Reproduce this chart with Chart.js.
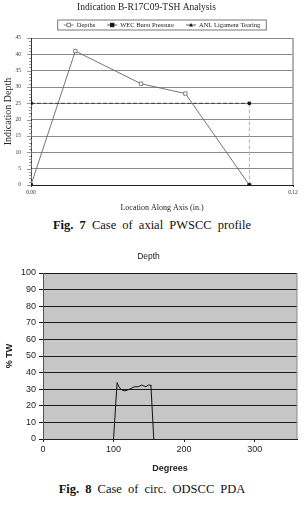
<!DOCTYPE html>
<html>
<head>
<meta charset="utf-8">
<script src="https://cdn.jsdelivr.net/npm/chart.js@4.4.0/dist/chart.umd.min.js"></script>
<style>
  body { margin: 0; background: #fff; width: 304px; height: 514px; position: relative; overflow: hidden; }
  canvas { position: absolute; left: 0; }
  #chart1 { top: 0; }
  #chart2 { top: 245px; }
  .caption {
    position: absolute; left: 0; width: 304px; text-align: center;
    font-family: "Liberation Serif", "DejaVu Serif", serif; font-size: 12.5px; color: #111;
    word-spacing: 3px;
  }
  .caption b { font-weight: bold; }
</style>
</head>
<body>
<canvas id="chart1" width="304" height="215"></canvas>
<div class="caption" style="top:218px"><b>Fig. 7</b> Case of axial PWSCC profile</div>
<canvas id="chart2" width="304" height="231"></canvas>
<div class="caption" style="top:482px"><b>Fig. 8</b> Case of circ. ODSCC PDA</div>
<script>
// Fig. 7 - axial profile
const depthLoc = [0, 0.0203, 0.0504, 0.0707, 0.1];
const depthVal = [0, 41, 31, 28, 0];
const wecLoc = [0, 0, 0.1, 0.1];
const wecVal = [0, 25, 25, 0];
const anlLoc = [];
const anlVal = [];
const xTicks1 = [0, 0.12];
const yTicks1 = [0, 5, 10, 15, 20, 25, 30, 35, 40, 45];

// Fig. 8 - circ. PDA
const degrees = [100, 105, 108, 112, 116, 120, 125, 130, 135, 140, 143, 146, 149, 152, 153, 157];
const pctTW = [0, 34, 31, 29.5, 29, 29.5, 30.5, 31.5, 31.5, 32.5, 32, 31.5, 32.5, 32.5, 32, 0];
const xTicks2 = [0, 100, 200, 300];
const yTicks2 = [0, 10, 20, 30, 40, 50, 60, 70, 80, 90, 100];

const serif = '"Liberation Serif", "DejaVu Serif", serif';
const sans = '"Liberation Sans", Arial, sans-serif';

function toPoints(xs, ys) {
    return xs.map((x, i) => ({ x: x, y: ys[i] }));
}

// legend box with line + marker samples, drawn on the canvas
const boxLegend = {
    id: 'boxLegend',
    afterDraw(chart) {
        const ctx = chart.ctx;
        const area = chart.chartArea;
        ctx.save();
        ctx.font = '6.5px ' + serif;
        ctx.textBaseline = 'middle';
        const items = chart.data.datasets;
        const lineW = 10, gap = 3, itemGap = 12;
        let total = 0;
        items.forEach((ds, i) => {
            total += lineW + gap + ctx.measureText(ds.label).width + (i < items.length - 1 ? itemGap : 0);
        });
        const boxPad = 6;
        const cx = (area.left + area.right) / 2;
        const left = cx - total / 2 - boxPad;
        const top = 20, h = 10;
        ctx.strokeStyle = '#555';
        ctx.lineWidth = 0.8;
        ctx.strokeRect(left, top, total + boxPad * 2, h);
        let x = left + boxPad;
        const y = top + h / 2;
        items.forEach(ds => {
            ctx.strokeStyle = ds.legendLine;
            ctx.lineWidth = 0.8;
            ctx.beginPath();
            ctx.moveTo(x, y);
            ctx.lineTo(x + lineW, y);
            ctx.stroke();
            const mx = x + lineW / 2;
            ctx.fillStyle = ds.pointBackgroundColor;
            ctx.strokeStyle = ds.pointBorderColor;
            if (ds.pointStyle === 'triangle') {
                ctx.beginPath();
                ctx.moveTo(mx, y - 2);
                ctx.lineTo(mx + 2, y + 1.5);
                ctx.lineTo(mx - 2, y + 1.5);
                ctx.closePath();
                ctx.fill();
            } else {
                ctx.fillRect(mx - 1.8, y - 1.8, 3.6, 3.6);
                ctx.strokeRect(mx - 1.8, y - 1.8, 3.6, 3.6);
            }
            x += lineW + gap;
            ctx.fillStyle = '#222';
            ctx.fillText(ds.label, x, y + 0.5);
            x += ctx.measureText(ds.label).width + itemGap;
        });
        ctx.restore();
    }
};

// minor ticks on the depth axis
const minorTicks = {
    id: 'minorTicks',
    afterDraw(chart) {
        const ctx = chart.ctx;
        const ys = chart.scales.y;
        const left = chart.chartArea.left;
        ctx.save();
        ctx.strokeStyle = '#555';
        ctx.lineWidth = 0.6;
        for (let v = ys.min; v <= ys.max; v++) {
            const p = Math.round(ys.getPixelForValue(v)) + 0.5;
            ctx.beginPath();
            ctx.moveTo(left - (v % 5 === 0 ? 4 : 2), p);
            ctx.lineTo(left, p);
            ctx.stroke();
        }
        ctx.restore();
    }
};

const plotFrame = {
    id: 'plotFrame',
    beforeDraw(chart, args, opts) {
        const { ctx, chartArea: a } = chart;
        if (opts.fill) {
            ctx.save();
            ctx.fillStyle = opts.fill;
            ctx.fillRect(a.left, a.top, a.right - a.left, a.bottom - a.top);
            ctx.restore();
        }
    },
    afterDraw(chart, args, opts) {
        const { ctx, chartArea: a } = chart;
        ctx.save();
        ctx.strokeStyle = opts.color || '#888';
        ctx.lineWidth = opts.width || 1;
        ctx.beginPath();
        ctx.moveTo(a.right, a.top);
        ctx.lineTo(a.right, a.bottom);
        ctx.stroke();
        ctx.restore();
    }
};

document.addEventListener('DOMContentLoaded', () => {
    const ctx1 = document.getElementById('chart1').getContext('2d');
    new Chart(ctx1, {
        type: 'scatter',
        data: {
            datasets: [{
                label: 'Depths',
                data: toPoints(depthLoc, depthVal),
                order: 2,
                showLine: true,
                borderColor: '#666',
                legendLine: '#666',
                borderWidth: 0.9,
                pointStyle: 'rect',
                pointRadius: 2.4,
                pointBackgroundColor: '#fff',
                pointBorderColor: '#666',
                pointBorderWidth: 0.8
            }, {
                label: 'WEC Burst Pressure',
                data: toPoints(wecLoc, wecVal),
                order: 0,
                showLine: true,
                borderColor: '#333',
                legendLine: '#333',
                borderWidth: 0.9,
                borderDash: [4, 2],
                segment: {
                    // vertical drops are drawn lighter than the horizontal limit line
                    borderColor: s => s.p0.parsed.x === s.p1.parsed.x ? '#aaa' : '#333'
                },
                pointStyle: 'rect',
                pointRadius: 1.8,
                pointBackgroundColor: '#111',
                pointBorderColor: '#111'
            }, {
                label: 'ANL Ligament Tearing',
                data: toPoints(anlLoc, anlVal),
                order: 1,
                showLine: true,
                borderColor: '#333',
                legendLine: '#333',
                borderWidth: 0.9,
                borderDash: [4, 2],
                pointStyle: 'triangle',
                pointRadius: 2,
                pointBackgroundColor: '#111',
                pointBorderColor: '#111'
            }]
        },
        options: {
            responsive: false,
            animation: false,
            layout: { padding: { left: 0, right: 11, top: 0, bottom: 0 } },
            plugins: {
                legend: { display: false },
                tooltip: { enabled: false },
                title: {
                    display: true,
                    text: 'Indication B-R17C09-TSH Analysis',
                    color: '#222',
                    font: { family: serif, size: 9.5, weight: 'normal' },
                    padding: { top: 2, bottom: 24.6 }
                },
                plotFrame: { color: '#999', width: 1.5 }
            },
            scales: {
                x: {
                    type: 'linear',
                    min: 0,
                    max: 0.12,
                    afterBuildTicks: axis => { axis.ticks = xTicks1.map(v => ({ value: v })); },
                    afterFit: axis => { axis.height = 30; },
                    ticks: {
                        color: '#333',
                        font: { family: serif, size: 5.5 },
                        padding: 2,
                        maxRotation: 0,
                        callback: v => v.toFixed(2)
                    },
                    grid: { drawOnChartArea: false, tickLength: 2, color: '#333' },
                    border: { color: '#222', width: 1 },
                    title: {
                        display: true,
                        text: 'Location Along Axis (in.)',
                        color: '#222',
                        font: { family: serif, size: 8 },
                        padding: { top: 0, bottom: 2.2 }
                    }
                },
                y: {
                    min: 0,
                    max: 45,
                    afterBuildTicks: axis => { axis.ticks = yTicks1.map(v => ({ value: v })); },
                    afterFit: axis => { axis.width = 31; },
                    ticks: {
                        color: '#333',
                        font: { family: serif, size: 5.5 },
                        padding: 10
                    },
                    grid: { color: '#8a8a8a', lineWidth: 1, tickLength: 4, drawTicks: false },
                    border: { color: '#333', width: 1 },
                    title: {
                        display: true,
                        text: 'Indication Depth',
                        color: '#222',
                        font: { family: serif, size: 10 },
                        padding: { top: 2.5, bottom: 0 }
                    }
                }
            }
        },
        plugins: [boxLegend, minorTicks, plotFrame]
    });

    const ctx2 = document.getElementById('chart2').getContext('2d');
    new Chart(ctx2, {
        type: 'scatter',
        data: {
            datasets: [{
                label: 'Depth',
                data: toPoints(degrees, pctTW),
                showLine: true,
                borderColor: '#111',
                borderWidth: 1,
                pointRadius: 0
            }]
        },
        options: {
            responsive: false,
            animation: false,
            layout: { padding: { left: 0, right: 7, top: 0, bottom: 0 } },
            plugins: {
                legend: { display: false },
                tooltip: { enabled: false },
                title: {
                    display: true,
                    text: 'Depth',
                    color: '#222',
                    font: { family: sans, size: 8.5, weight: 'normal' },
                    padding: { top: 7, bottom: 10.8 }
                },
                plotFrame: { fill: '#c6c6c6', color: '#888', width: 1 }
            },
            scales: {
                x: {
                    type: 'linear',
                    min: 0,
                    max: 360,
                    afterBuildTicks: axis => { axis.ticks = xTicks2.map(v => ({ value: v })); },
                    afterFit: axis => { axis.height = 37; },
                    ticks: {
                        color: '#222',
                        font: { family: sans, size: 9 },
                        padding: 2.6,
                        maxRotation: 0
                    },
                    grid: { drawOnChartArea: false, tickLength: 3, color: '#222' },
                    border: { color: '#222', width: 1 },
                    title: {
                        display: true,
                        text: 'Degrees',
                        color: '#222',
                        font: { family: sans, size: 9, weight: 'bold' },
                        padding: { top: 0, bottom: 2.3 }
                    }
                },
                y: {
                    min: 0,
                    max: 100,
                    afterBuildTicks: axis => { axis.ticks = yTicks2.map(v => ({ value: v })); },
                    afterFit: axis => { axis.width = 43; },
                    ticks: {
                        color: '#222',
                        font: { family: sans, size: 9 },
                        padding: 3
                    },
                    grid: { color: '#1a1a1a', lineWidth: 1, tickLength: 4 },
                    border: { color: '#555', width: 1 },
                    title: {
                        display: true,
                        text: '% TW',
                        color: '#222',
                        font: { family: sans, size: 9, weight: 'bold' },
                        padding: { top: 4.6, bottom: 0 }
                    }
                }
            }
        },
        plugins: [plotFrame]
    });
});
</script>
</body>
</html>
